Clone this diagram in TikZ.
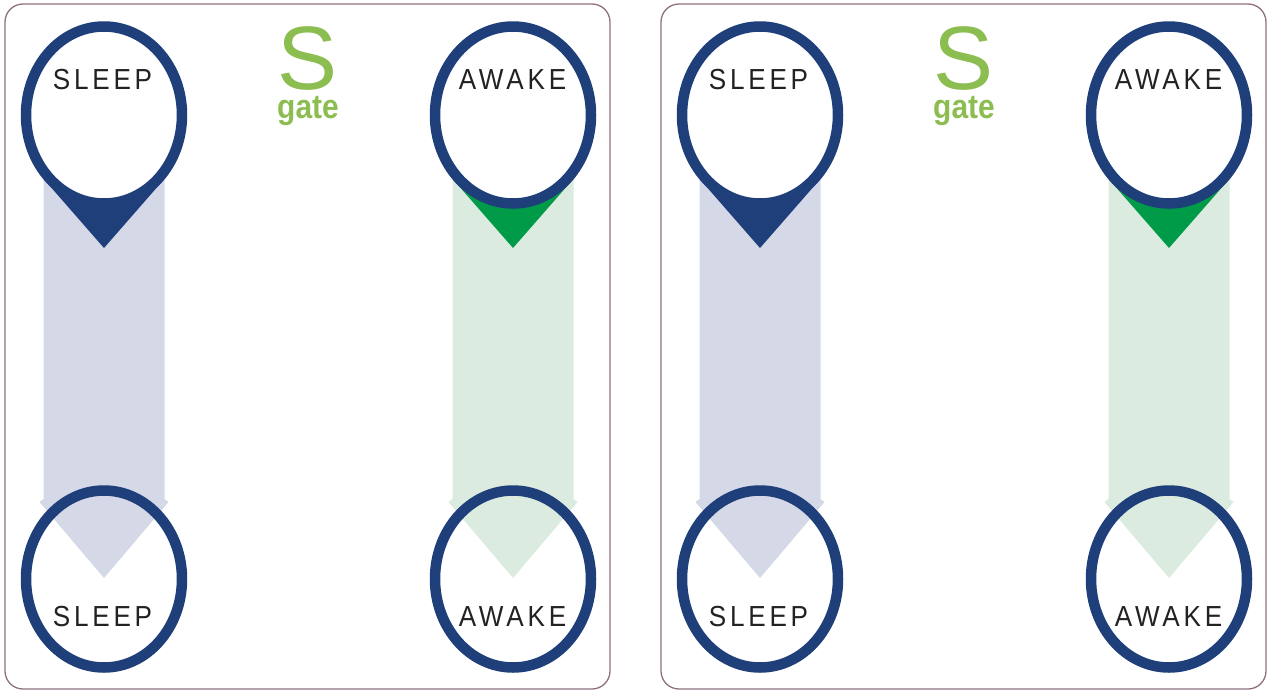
\documentclass[tikz,border=0pt]{standalone}
\usepackage{fontspec}
\setmainfont{Liberation Sans}
\newfontfamily\labfont[FakeStretch=0.9,LetterSpace=13]{Liberation Sans}
\newfontfamily\gatefont[FakeStretch=0.88]{Liberation Sans}
\usetikzlibrary{shapes.geometric,calc}
\definecolor{ringblue}{HTML}{1F3F7B}
\definecolor{tgreen}{HTML}{009B48}
\definecolor{palelav}{HTML}{D5D8E6}
\definecolor{palegreen}{HTML}{DCEBDF}
\definecolor{sgreen}{HTML}{8CBD50}
\definecolor{framecol}{HTML}{8F7080}
\definecolor{txt}{HTML}{222222}
\pgfdeclarelayer{bg}
\pgfsetlayers{bg,main}
\newcommand{\palearrow}[3]{%
  \fill[#1] ($(#2.center)+(-60.5,0)$) -- ($(#2.center)+(60.5,0)$)
    -- ($(#3.center)+(60.5,-80)$) -- ($(#3.center)+(64.5,-77)$)
    -- ($(#3.center)+(0,-1)$) -- ($(#3.center)+(-64.5,-77)$)
    -- ($(#3.center)+(-60.5,-80)$) -- cycle;}
\newcommand{\pintri}[2]{%
  \fill[#1] ($(#2.center)+(-59.4,65)$) -- ($(#2.center)+(59.4,65)$)
    -- ($(#2.center)+(0,133)$) -- cycle;}
\begin{document}
\begin{tikzpicture}[x=1pt,y=-1pt,
  panel/.style={draw=framecol,line width=1.3pt,rounded corners=18pt},
  ring/.style={ellipse,draw=ringblue,line width=10.5pt,minimum width=156pt,minimum height=177pt,inner sep=0pt},
  topring/.style={ring,fill=white},
  botring/.style={ring},
  lab/.style={anchor=base,text=txt,font=\labfont\fontsize{29}{29}\selectfont,inner sep=0pt},
  bigS/.style={anchor=base,text=sgreen,font=\fontsize{90}{90}\selectfont,inner sep=0pt},
  gatelab/.style={anchor=base,text=sgreen,font=\gatefont\bfseries\fontsize{34}{34}\selectfont,inner sep=0pt}]
\useasboundingbox (0,0) rectangle (1270,691);
\foreach \p/\o in {1/0,2/656}{
  \draw[panel] (5+\o,4) rectangle (610+\o,689);
  \node[topring] (sT\p) at (104+\o,115) {};
  \node[botring] (sB\p) at (104+\o,579) {};
  \node[topring] (aT\p) at (513+\o,115) {};
  \node[botring] (aB\p) at (513+\o,579) {};
  \node[lab] (sTl\p) at (102.5+\o,89) {SLEEP};
  \node[lab] (sBl\p) at (102.5+\o,626) {SLEEP};
  \node[lab] (aTl\p) at (512.5+\o,89) {AWAKE};
  \node[lab] (aBl\p) at (512.5+\o,626) {AWAKE};
  \node[bigS] (S\p) at (308+\o,89) {S};
  \node[gatelab] (g\p) at (308+\o,118) {gate};
  \begin{pgfonlayer}{bg}
    \palearrow{palelav}{sT\p}{sB\p}
    \palearrow{palegreen}{aT\p}{aB\p}
    \pintri{ringblue}{sT\p}
    \pintri{tgreen}{aT\p}
  \end{pgfonlayer}
}
\end{tikzpicture}
\end{document}
